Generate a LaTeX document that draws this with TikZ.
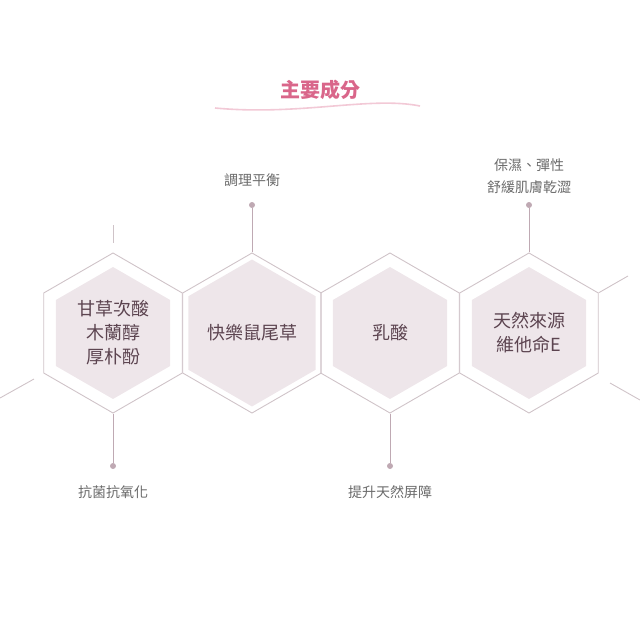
\documentclass[tikz,border=0pt]{standalone}
\usepackage{fontspec}
\newfontfamily\cjk{Noto Sans CJK TC}
\usetikzlibrary{shapes.geometric,positioning}
\definecolor{hexline}{HTML}{CFC3C8}
\definecolor{hexfill}{HTML}{EEE6EA}
\definecolor{stem}{HTML}{BFA9B3}
\definecolor{plum}{HTML}{5C4450}
\definecolor{labelgray}{HTML}{6A6A6A}
\definecolor{titlepink}{HTML}{D9668A}
\tikzset{
  outerhex/.style={regular polygon, regular polygon sides=6, shape border rotate=30,
    minimum size=160pt, inner sep=0pt, draw=hexline, line width=0.9pt},
  innerhex/.style={regular polygon, regular polygon sides=6, shape border rotate=30,
    minimum size=132pt, inner sep=0pt, fill=hexfill, text=plum,
    font=\cjk\fontsize{18}{24}\selectfont, align=center},
  stemline/.style={stem, line width=0.9pt},
  dot/.style={circle, fill=stem, inner sep=0pt, minimum size=6pt},
  label/.style={text=labelgray, font=\cjk\fontsize{14}{22}\selectfont, align=center}
}
\begin{document}
\begin{tikzpicture}[x=1pt, y=-1pt]
  \useasboundingbox (0,0) rectangle (640,640);

  % title
  \node[text=titlepink, font=\cjk\bfseries\fontsize{20}{24}\selectfont] (title) at (320,90) {主要成分};
  \draw[titlepink!35, line width=1.6pt] (215,108) .. controls (300,116) and (370,96) .. (420,106);

  % hexagons
  \foreach \i/\x in {1/113, 2/252, 3/390, 4/529} {
    \node[outerhex] (o\i) at (\x,333) {};
  }
  \node[innerhex] (h1) at (113,333) {甘草次酸\\木蘭醇\\厚朴酚};
  \node[innerhex] (h2) at (252,333) {快樂鼠尾草};
  \node[innerhex] (h3) at (390,333) {乳酸};
  \node[innerhex] (h4) at (529,333) {天然來源\\維他命E};

  % loose ends
  \coordinate (e1) at (113,225);
  \coordinate (e2) at (113,243);
  \coordinate (e3) at (0,398);
  \coordinate (e4) at (34,379);
  \coordinate (e5) at (628,276);
  \coordinate (e6) at (610,383);
  \coordinate (e7) at (640,400);
  \draw[hexline, line width=0.9pt] (e1) -- (e2);
  \draw[hexline, line width=0.9pt] (e3) -- (e4);
  \draw[hexline, line width=0.9pt] (o4.corner 6) -- (e5);
  \draw[hexline, line width=0.9pt] (e6) -- (e7);

  % stems and labels
  \node[dot] (d1) at (113,466) {};
  \node[dot] (d2) at (252,205) {};
  \node[dot] (d3) at (390,466) {};
  \node[dot] (d4) at (529,205) {};
  \draw[stemline] (o1.corner 4) -- (d1);
  \draw[stemline] (o2.corner 1) -- (d2);
  \draw[stemline] (o3.corner 4) -- (d3);
  \draw[stemline] (o4.corner 1) -- (d4);
  \node[label] (l1) at (113,492) {抗菌抗氧化};
  \node[label] (l2) at (252,180) {調理平衡};
  \node[label] (l3) at (390,492) {提升天然屏障};
  \node[label] (l4) at (529,176) {保濕、彈性\\舒緩肌膚乾澀};
\end{tikzpicture}
\end{document}
